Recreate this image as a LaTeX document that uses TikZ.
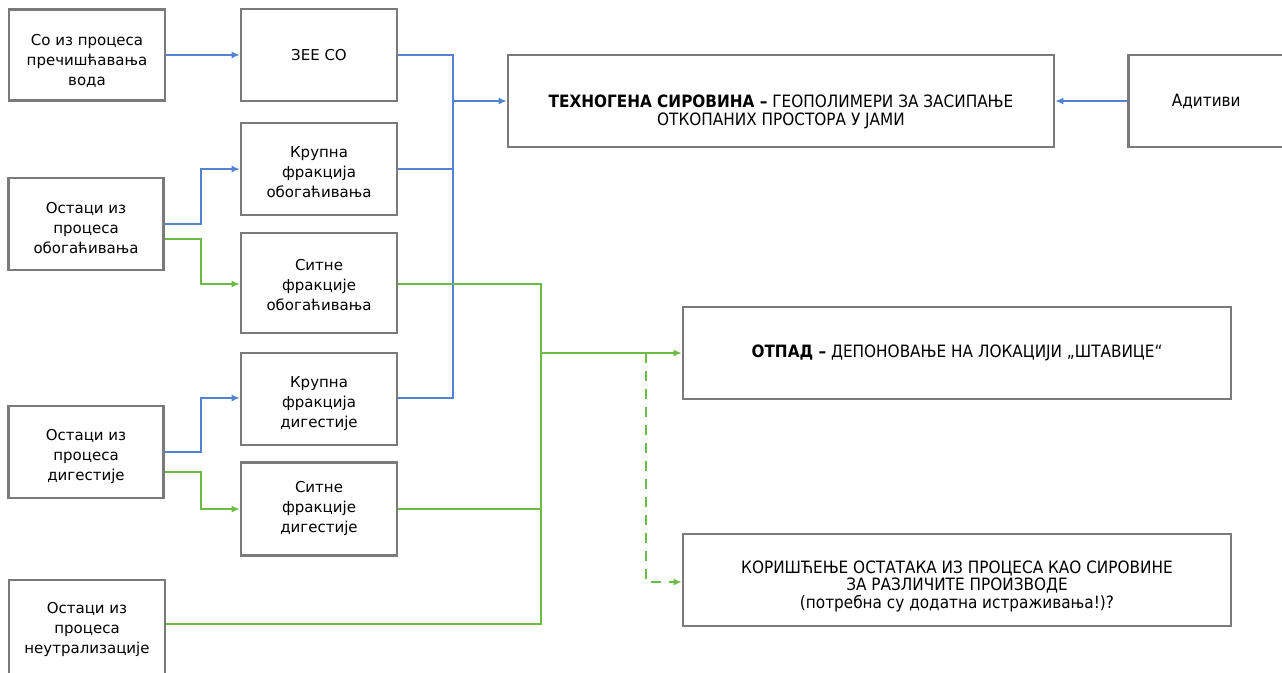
\documentclass[tikz,border=0pt]{standalone}
\usepackage{fontspec}
\setmainfont{DejaVu Sans}
\newfontfamily\condf{DejaVu Sans Condensed}
\usetikzlibrary{arrows.meta}
\definecolor{bl}{HTML}{5283D2}
\definecolor{gr}{HTML}{6DBB47}
\definecolor{bx}{HTML}{7A7A7A}
\tikzset{
  th/.style={text height=#1, text depth=3.5pt},
  box/.style={draw=bx, line width=2.6pt, fill=white, align=center, inner sep=0pt, font=\fontsize{15}{20}\selectfont},
  bigbox/.style={draw=bx, line width=2.6pt, fill=white, align=center, inner sep=0pt, font=\condf\fontsize{17}{17.5}\selectfont},
  bline/.style={draw=bl, line width=2.3pt},
  gline/.style={draw=gr, line width=2.3pt},
  tip/.style={-{Latex[length=8pt,width=7pt]}},
}
\begin{document}
\begin{tikzpicture}[x=1pt,y=-1pt]
\useasboundingbox (0,0) rectangle (1282,672);
% left column
\node[box, th=63.5pt, minimum width=156pt, minimum height=91pt] (a) at (87,55) {Со из процеса\\пречишћавања\\вода};
\node[box, th=61.5pt, minimum width=155pt, minimum height=92pt] (b) at (86,224) {Остаци из\\процеса\\обогаћивања};
\node[box, th=59.5pt, minimum width=155pt, minimum height=92pt] (c) at (86,452) {Остаци из\\процеса\\дигестије};
\node[box, th=55.5pt, minimum width=156pt, minimum height=94pt] (d) at (87,627) {Остаци из\\процеса\\неутрализације};
% middle column
\node[box, minimum width=156pt, minimum height=92pt] (e) at (319,55) {ЗЕЕ СО};
\node[box, th=59.5pt, minimum width=156pt, minimum height=92pt] (f) at (319,169) {Крупна\\фракција\\обогаћивања};
\node[box, th=57.5pt, minimum width=156pt, minimum height=100pt] (g) at (319,283) {Ситне\\фракције\\обогаћивања};
\node[box, th=59.5pt, minimum width=156pt, minimum height=92pt] (h) at (319,399) {Крупна\\фракција\\дигестије};
\node[box, th=49.5pt, minimum width=156pt, minimum height=93pt] (i) at (319,509) {Ситне\\фракције\\дигестије};
% right column
\node[bigbox, text height=48pt, text depth=0pt, minimum width=546pt, minimum height=92pt] (t) at (781,101) {\textbf{ТЕХНОГЕНА СИРОВИНА –} ГЕОПОЛИМЕРИ ЗА ЗАСИПАЊЕ\\ОТКОПАНИХ ПРОСТОРА У ЈАМИ};
\node[bigbox, minimum width=170pt, minimum height=92pt, anchor=west] (ad) at (1127,101) {Адитиви\hspace*{14pt}};
\node[bigbox, minimum width=548pt, minimum height=92pt] (o) at (957,353) {\textbf{ОТПАД –} ДЕПОНОВАЊЕ НА ЛОКАЦИЈИ „ШТАВИЦЕ“};
\node[bigbox, text height=60.4pt, text depth=4pt, minimum width=548pt, minimum height=92pt] (k) at (957,580) {КОРИШЋЕЊЕ ОСТАТАКА ИЗ ПРОЦЕСА КАО СИРОВИНЕ\\ЗА РАЗЛИЧИТЕ ПРОИЗВОДЕ\\(потребна су додатна истраживања!)?};
% junction coordinates
\coordinate (bj) at (453,101);
\coordinate (gj) at (541,353);
\coordinate (dj) at (646,353);
% blue connectors
\draw[bline, tip] (a.east |- 0,55) -- (e.west |- 0,55);
\draw[bline, tip] (b.east |- 0,224) -- (201,224) -- (201,169) -- (f.west |- 0,169);
\draw[bline, tip] (c.east |- 0,452) -- (201,452) -- (201,398) -- (h.west |- 0,398);
\draw[bline] (e.east |- 0,55) -- (bj |- 0,55) -- (bj |- 0,398) -- (h.east |- 0,398);
\draw[bline] (f.east |- 0,169) -- (bj |- 0,169);
\draw[bline, tip] (bj) -- (t.west |- bj);
\draw[bline, tip] (ad.west |- 0,101) -- (t.east |- 0,101);
% green connectors
\draw[gline, tip] (b.east |- 0,239) -- (201,239) -- (201,284) -- (g.west |- 0,284);
\draw[gline, tip] (c.east |- 0,472) -- (201,472) -- (201,509) -- (i.west |- 0,509);
\draw[gline] (g.east |- 0,284) -- (gj |- 0,284) -- (gj |- 0,624) -- (d.east |- 0,624);
\draw[gline] (i.east |- 0,509) -- (gj |- 0,509);
\draw[gline, tip] (gj) -- (o.west |- gj);
\draw[gline, tip, dashed, dash pattern=on 10pt off 8pt] (dj) -- (dj |- 0,582) -- (k.west |- 0,582);
\end{tikzpicture}
\end{document}
